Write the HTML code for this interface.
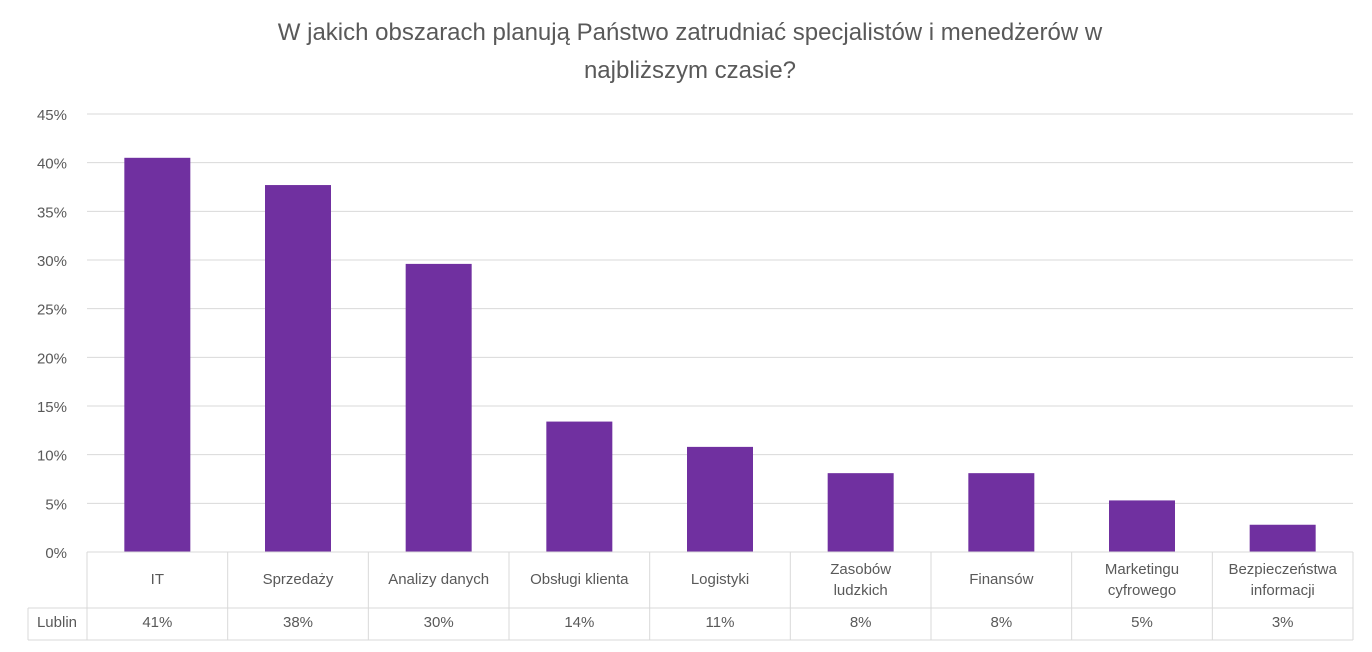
<!DOCTYPE html>
<html><head><meta charset="utf-8"><style>
body{margin:0;background:#fff;width:1372px;height:647px;overflow:hidden;font-family:"Liberation Sans","DejaVu Sans",sans-serif}
svg text{font-family:"Liberation Sans","DejaVu Sans",sans-serif}
</style></head><body>
<svg id="chart" width="1372" height="647">
<text x="690" y="40" text-anchor="middle" font-size="24" fill="#595959">W jakich obszarach planują Państwo zatrudniać specjalistów i menedżerów w</text>
<text x="690" y="78" text-anchor="middle" font-size="24" fill="#595959">najbliższym czasie?</text>
<g id="grid"></g><g id="bars"></g><g id="table"></g>
</svg>
<script>
const categories=[["IT"],["Sprzedaży"],["Analizy danych"],["Obsługi klienta"],["Logistyki"],["Zasobów","ludzkich"],["Finansów"],["Marketingu","cyfrowego"],["Bezpieczeństwa","informacji"]];
const values=[40.5,37.7,29.6,13.4,10.8,8.1,8.1,5.3,2.8];
const printedValues=["41%","38%","30%","14%","11%","8%","8%","5%","3%"];
const yTicks=[0,5,10,15,20,25,30,35,40,45];
const NS="http://www.w3.org/2000/svg";
const x0=87,x1=1353,y0=552,yTop=114,yMax=45;
const colW=(x1-x0)/categories.length;
const yS=v=>y0-(v/yMax)*(y0-yTop);
function mk(tag,attrs,parent,txt){const e=document.createElementNS(NS,tag);for(const k in attrs)e.setAttribute(k,attrs[k]);if(txt!==undefined)e.textContent=txt;parent.appendChild(e);return e;}
const grid=document.getElementById('grid'),bars=document.getElementById('bars'),tbl=document.getElementById('table');
yTicks.forEach(t=>{
  const l=mk('line',{x1:x0,x2:x1,y1:yS(t),y2:yS(t),stroke:'#d9d9d9','stroke-width':1},grid);
  
  
  const tx=mk('text',{x:67,y:yS(t)+6,'text-anchor':'end','font-size':15,fill:'#595959'},grid,t+'%');
  
  
});
values.forEach((v,i)=>{
  const cx=x0+colW*(i+0.5);
  const r=mk('rect',{x:cx-33,y:yS(v),width:66,height:y0-yS(v),fill:'#7030a0'},bars);
  
  
});
const ln=(a,b,c,d)=>{const l=mk('line',{x1:a,y1:b,x2:c,y2:d,stroke:'#d9d9d9','stroke-width':1},tbl);
  
  };
ln(x0,552,x1,552);ln(28,608,x1,608);ln(28,640,x1,640);ln(28,608,28,640);
for(let i=0;i<=categories.length;i++){ln(x0+colW*i,552,x0+colW*i,640);}
const lt=mk('text',{x:57,y:627,'text-anchor':'middle','font-size':15,fill:'#595959'},tbl,'Lublin');


categories.forEach((c,i)=>{
  const cx=x0+colW*(i+0.5);
  c.forEach((s,j)=>{
    const y=c.length===1?584:574+j*21;
    const t=mk('text',{x:cx,y:y,'text-anchor':'middle','font-size':15,fill:'#595959'},tbl,s);
    
    
  });
  const v=mk('text',{x:cx,y:627,'text-anchor':'middle','font-size':15,fill:'#595959'},tbl,printedValues[i]);
  
  
});
</script>
</body></html>
